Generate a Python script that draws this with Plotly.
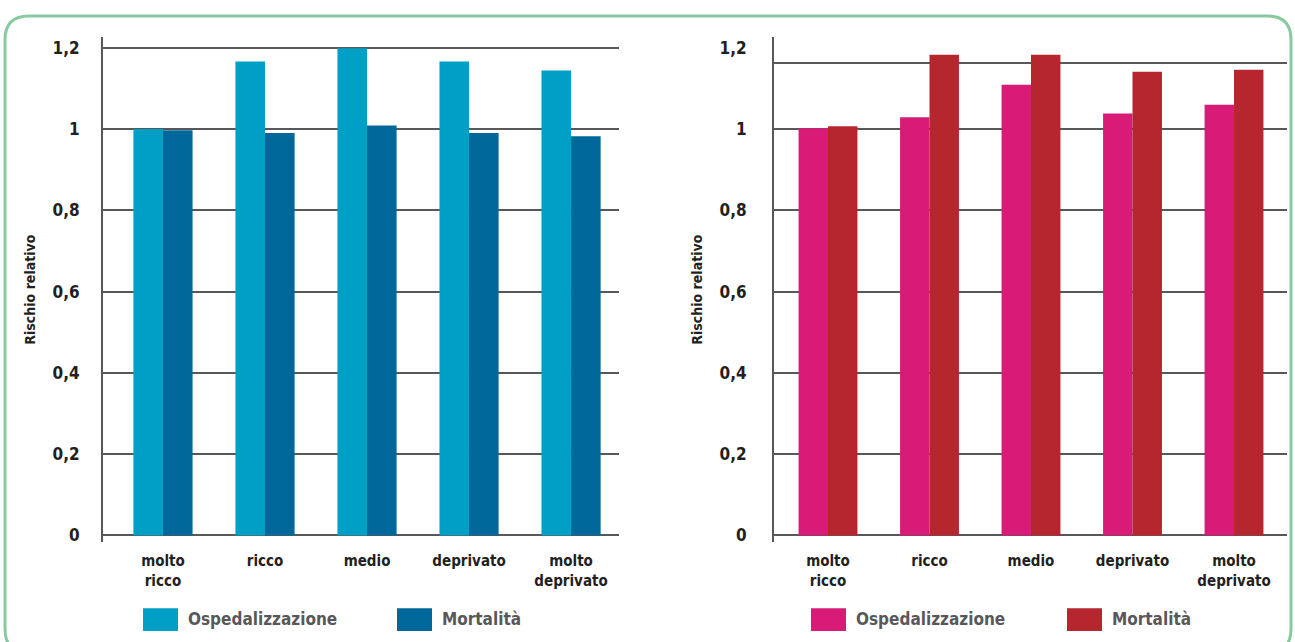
import plotly.graph_objects as go

categories = ["molto<br>ricco", "ricco", "medio", "deprivato", "molto<br>deprivato"]
left_osp = [1.00, 1.166, 1.199, 1.166, 1.144]
left_mort = [0.997, 0.990, 1.009, 0.990, 0.982]
right_osp = [1.002, 1.029, 1.109, 1.038, 1.060]
right_mort = [1.007, 1.183, 1.183, 1.141, 1.146]
tick_vals = [0, 0.2, 0.4, 0.6, 0.8, 1.0, 1.2]
tick_text = ["0", "0,2", "0,4", "0,6", "0,8", "1", "1,2"]
right_grid_vals = [0, 0.2, 0.4, 0.6, 0.8, 1.0, 1.163]
series_names = ["Ospedalizzazione", "Mortalità"]

W, H = 1295, 642
FONT = "DejaVu Sans Condensed, Liberation Sans Narrow, sans-serif"
GRID = "#58585a"
C_LIGHT, C_DARK = "#00a0c6", "#00679a"
C_PINK, C_RED = "#d91b78", "#b5262e"


def px(x):
    return x / W


def py(y):
    return 1 - y / H


fig = go.Figure()
bar_specs = [
    (left_osp, series_names[0], C_LIGHT, "x", "y"),
    (left_mort, series_names[1], C_DARK, "x", "y"),
    (right_osp, series_names[0], C_PINK, "x2", "y2"),
    (right_mort, series_names[1], C_RED, "x2", "y2"),
]
for vals, name, col, xa, ya in bar_specs:
    fig.add_trace(go.Bar(x=categories, y=vals, name=name, marker=dict(color=col, line=dict(width=0)),
                         xaxis=xa, yaxis=ya, showlegend=False))
fig.add_trace(go.Scatter(x=[categories[0]], y=[0], mode="markers", marker=dict(opacity=0),
                         xaxis="x2", yaxis="y3", showlegend=False, hoverinfo="skip"))

y_range = [-0.01714, 1.2269]
y_dom = [py(545), py(37)]
tickfont = dict(family=FONT, size=17, color="#231f20", weight=700)
catfont = dict(family=FONT, size=15, color="#231f20", weight=700)
titlefont = dict(family=FONT, size=14, color="#231f20", weight=700)

common_x = dict(type="category", showline=False, showgrid=False, ticks="",
                tickfont=catfont, ticklabelstandoff=8, fixedrange=True)
fig.update_layout(
    width=W, height=H,
    margin=dict(l=0, r=0, t=0, b=0),
    paper_bgcolor="white", plot_bgcolor="white",
    barmode="group", bargap=0.42, bargroupgap=0,
    xaxis=dict(domain=[px(103), px(619)], range=[-0.588, 4.47], anchor="y", **common_x),
    xaxis2=dict(domain=[px(774), px(1287)], range=[-0.532, 4.522], anchor="y2", **common_x),
    yaxis=dict(domain=y_dom, range=y_range, anchor="x", tickvals=tick_vals, ticktext=tick_text,
               showgrid=True, gridcolor=GRID, gridwidth=2, zeroline=True, zerolinecolor=GRID,
               zerolinewidth=2, showline=True, linecolor=GRID, linewidth=2, ticks="",
               tickfont=tickfont, ticklabelstandoff=18,
               title=dict(text="Rischio relativo", font=titlefont, standoff=14)),
    yaxis2=dict(domain=y_dom, range=y_range, anchor="x2", tickvals=tick_vals, ticktext=tick_text,
                showgrid=False, zeroline=True, zerolinecolor=GRID, zerolinewidth=2,
                showline=True, linecolor=GRID, linewidth=2, ticks="",
                tickfont=tickfont, ticklabelstandoff=22,
                title=dict(text="Rischio relativo", font=titlefont, standoff=14)),
    yaxis3=dict(domain=y_dom, range=y_range, anchor="x2", overlaying="y2",
                tickvals=right_grid_vals, showticklabels=False, showgrid=True,
                gridcolor=GRID, gridwidth=2, zeroline=False, showline=False, ticks=""),
)


def rounded_rect(x0, y0, x1, y1, r):
    p = []
    p.append(f"M {px(x0 + r)},{py(y0)}")
    p.append(f"L {px(x1 - r)},{py(y0)}")
    p.append(f"Q {px(x1)},{py(y0)} {px(x1)},{py(y0 + r)}")
    p.append(f"L {px(x1)},{py(y1 - r)}")
    p.append(f"Q {px(x1)},{py(y1)} {px(x1 - r)},{py(y1)}")
    p.append(f"L {px(x0 + r)},{py(y1)}")
    p.append(f"Q {px(x0)},{py(y1)} {px(x0)},{py(y1 - r)}")
    p.append(f"L {px(x0)},{py(y0 + r)}")
    p.append(f"Q {px(x0)},{py(y0)} {px(x0 + r)},{py(y0)}")
    p.append("Z")
    return " ".join(p)


shapes = [dict(type="path", xref="paper", yref="paper",
               path=rounded_rect(5, 16, 1291, 656, 24),
               line=dict(color="#88c9a0", width=3), fillcolor="rgba(0,0,0,0)")]

legend_items = [
    (143, C_LIGHT, series_names[0]), (397, C_DARK, series_names[1]),
    (811, C_PINK, series_names[0]), (1067, C_RED, series_names[1]),
]
annotations = []
for x0, col, name in legend_items:
    shapes.append(dict(type="rect", xref="paper", yref="paper",
                       x0=px(x0), x1=px(x0 + 35), y0=py(634), y1=py(611),
                       fillcolor=col, line=dict(width=0)))
    annotations.append(dict(xref="paper", yref="paper", x=px(x0 + 43), y=py(622),
                            xanchor="left", yanchor="middle", showarrow=False,
                            text=name, font=dict(family=FONT, size=17, color="#58585a", weight=700)))

fig.update_layout(shapes=shapes, annotations=annotations)
fig.write_html("out.html", config={"displayModeBar": False},
               post_script="document.body.style.margin='0';document.body.style.padding='0';")
